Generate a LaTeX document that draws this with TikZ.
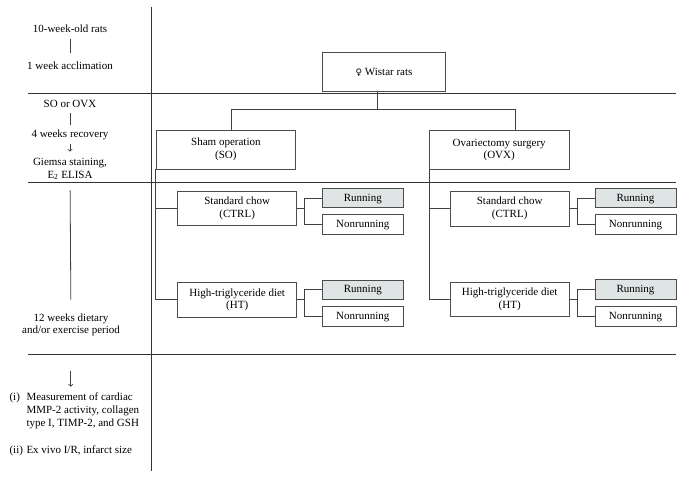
\documentclass[tikz,border=0pt]{standalone}
\usepackage{fontspec}
\setmainfont{Liberation Serif}
\newfontfamily\symbfont{DejaVu Sans}
\definecolor{runfill}{RGB}{223,228,228}
\begin{document}
\begin{tikzpicture}[x=1pt,y=-1pt,font=\fontsize{11}{12.7}\selectfont]
        \tikzstyle{bigbox}=[draw=black!70,line width=0.8pt,inner sep=0pt,align=center,minimum width=139.7pt,minimum height=39pt]
        \tikzstyle{midbox}=[bigbox,minimum width=119pt,minimum height=34.5pt]
        \tikzstyle{subbox}=[bigbox,minimum width=81pt,minimum height=19.5pt,text height=7.5pt,text depth=1.5pt]
        \tikzstyle{runbox}=[subbox,fill=runfill]
        \tikzstyle{lab}=[align=center]
        \tikzstyle{edge}=[draw,black!75,line width=0.8pt]
        \tikzstyle{rule}=[draw,black!80,line width=0.8pt]
        \useasboundingbox (0,0) rectangle (683,479);
    	\begin{scope}
         % time line on the left
         \node [lab] (rats) at (70,29) {10-week-old rats};
         \node [lab] (accl) at (70,66) {1 week acclimation};
         \node [lab] (sovx) at (70,104) {SO or OVX};
         \node [lab] (recov) at (70,135) {4 weeks recovery};
         \node [lab] (giemsa) at (70,169) {Giemsa staining,\\E\textsubscript{2} ELISA};
         \node [lab] (diet) at (71,325) {12 weeks dietary\\and/or exercise period};
         \node [anchor=west,align=left] (meas) at (6,411) {\makebox[17pt][l]{(i)}Measurement of cardiac\\\hspace*{17pt}MMP-2 activity, collagen\\\hspace*{17pt}type I, TIMP-2, and GSH};
         \node [anchor=west] (exvivo) at (6,451) {\makebox[17pt][l]{(ii)}Ex vivo I/R, infarct size};
         \coordinate (fin) at (70.7,371);

         \path[edge,shorten <=3pt,shorten >=6pt] (rats) to (accl);
         \path[edge,shorten <=2pt,shorten >=1pt] (sovx) to (recov);
         \path[edge,->,shorten >=3pt] (recov) to (giemsa);
         \path[edge,shorten <=7pt,shorten >=10.5pt] (giemsa) to (diet);
         \path[edge,->,shorten >=3pt] (fin) to (meas.north -| fin);

         % separating lines
         \path[rule] (151.7,7) -- (151.7,471);
         \path[rule] (28,93.3) -- (676,93.3);
         \path[rule] (28,182.7) -- (676,182.7);
         \path[rule] (28,354.3) -- (676,354.3);

         % groups
         \node [bigbox,minimum width=123.4pt] (wistar) at (384,72.2) {{\symbfont\fontsize{9}{10}\selectfont ♀} Wistar rats};
         \node [bigbox] (so) at (225.9,149.5) {Sham operation\\(SO)};
         \node [bigbox] (ovx) at (499.2,150) {Ovariectomy surgery\\(OVX)};

         \node [midbox] (chowso) at (237.2,208.5) {Standard chow\\(CTRL)};
         \node [midbox] (htso) at (237.2,299.8) {High-triglyceride diet\\(HT)};
         \node [midbox] (chowovx) at (509.7,208.7) {Standard chow\\(CTRL)};
         \node [midbox] (htovx) at (509.7,299.2) {High-triglyceride diet\\(HT)};

         \node [runbox] (runchowso) at (362.8,198) {Running};
         \node [subbox] (nonchowso) at (362.8,224.2) {Nonrunning};
         \node [runbox] (runhtso) at (362.8,289.7) {Running};
         \node [subbox] (nonhtso) at (362.8,316.5) {Nonrunning};
         \node [runbox] (runchowovx) at (635.5,198) {Running};
         \node [subbox] (nonchowovx) at (635.5,224.5) {Nonrunning};
         \node [runbox] (runhtovx) at (635.5,289.5) {Running};
         \node [subbox] (nonhtovx) at (635.5,316.3) {Nonrunning};

         % connectors
         \coordinate (wsplit) at (377.3,109);
         \coordinate (soin) at (231.7,109);
         \coordinate (ovxin) at (515.7,109);
         \path[edge] (wsplit |- wistar.south) to (wsplit);
         \path[edge] (soin |- so.north) -- (soin) -- (ovxin) -- (ovxin |- ovx.north);

         \path[edge] (so.south west) |- (htso.west);
         \path[edge] (so.south west |- chowso.west) to (chowso.west);
         \path[edge] (ovx.south west) |- (htovx.west);
         \path[edge] (ovx.south west |- chowovx.west) to (chowovx.west);

         \path[edge] (chowso.east) -- ++(7.6,0) coordinate (fchowso);
         \path[edge] (runchowso.west) -| (fchowso) |- (nonchowso.west);
         \path[edge] (htso.east) -- ++(7.6,0) coordinate (fhtso);
         \path[edge] (runhtso.west) -| (fhtso) |- (nonhtso.west);
         \path[edge] (chowovx.east) -- ++(7.6,0) coordinate (fchowovx);
         \path[edge] (runchowovx.west) -| (fchowovx) |- (nonchowovx.west);
         \path[edge] (htovx.east) -- ++(7.6,0) coordinate (fhtovx);
         \path[edge] (runhtovx.west) -| (fhtovx) |- (nonhtovx.west);
         \end{scope}

      \end{tikzpicture}
\end{document}
